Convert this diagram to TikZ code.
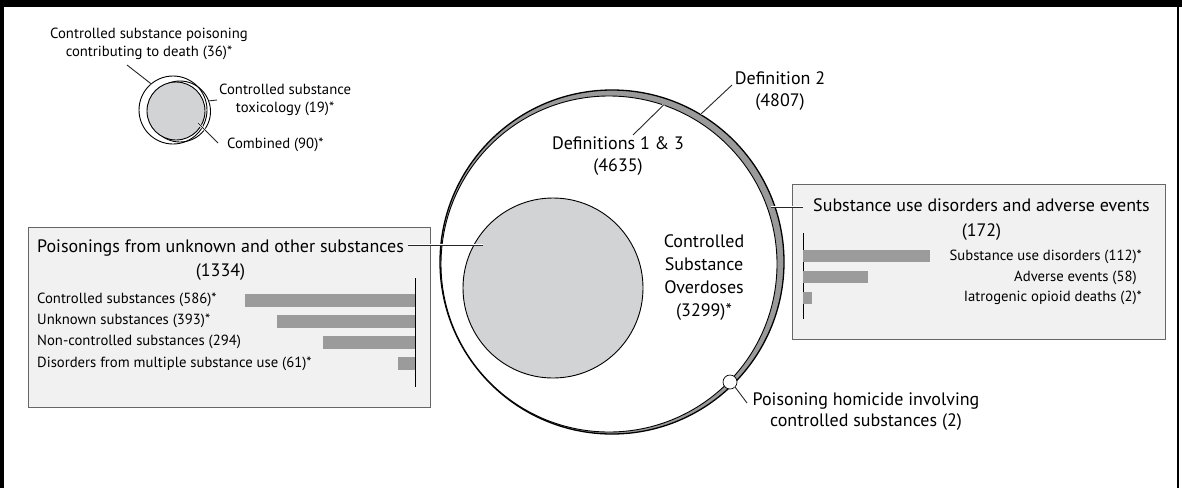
\documentclass[tikz,border=0pt]{standalone}
\usepackage{fontspec}
\setmainfont{PT Sans}
\usetikzlibrary{positioning,calc}

\definecolor{ringgray}{HTML}{9A9A9A}
\definecolor{discgray}{HTML}{D2D3D5}
\definecolor{bargray}{HTML}{9B9B9B}
\definecolor{panelgray}{HTML}{F1F1F1}

\tikzset{
  small/.style={font=\fontsize{14.7}{18}\selectfont, inner sep=0pt},
  large/.style={font=\fontsize{18}{22}\selectfont, inner sep=0pt, align=center},
  leader/.style={preaction={draw=white,line width=2.4pt}, draw=black!85, line width=0.9pt},
  panel/.style={fill=panelgray, draw=black!60, line width=1.1pt, inner sep=0pt},
  disc/.style={circle, inner sep=0pt, draw=black, line width=0.9pt},
}

\begin{document}
\begin{tikzpicture}[x=1pt,y=-1pt]
\useasboundingbox (0,0) rectangle (1182,488);
% frame
\fill[black] (0,0) rectangle (1182,7);
\fill[black] (0,0) rectangle (4,488);
\fill[black] (1177,0) rectangle (1179,488);

% small venn, top left
\node[disc, minimum size=68pt] (venna) at (173,110) {};
\node[disc, minimum size=61pt] (vennb) at (180,111.5) {};
\node[disc, fill=discgray, minimum size=58pt] (vennc) at (176,111) {};
\node[small, align=center] (vtxt1) at (149,44) {Controlled substance poisoning\\contributing to death (36)*};
\node[small, align=center, anchor=west] (vtxt2) at (219,100) {Controlled substance\\toxicology (19)*};
\node[small, anchor=west] (vtxt3) at (227,145) {Combined (90)*};
\coordinate (v1a) at (127,65);
\coordinate (v2a) at (217,100);
\coordinate (v3a) at (198,123);
\coordinate (v3b) at (218,143);
\draw[leader] (v1a) -- (venna.130);
\draw[leader] (vennb.20) -- (v2a);
\draw[leader] (v3a) -- (v3b);

% big circles
\node[disc, fill=ringgray, line width=1.3pt, minimum size=344pt] (def2) at (612,262) {};
\node[disc, fill=white, minimum size=336pt] (def13) at (609,264) {};
\node[disc, fill=discgray, minimum size=180pt] (unk) at (553,288) {};
\node[disc, fill=white, line width=0.7pt, minimum size=14pt] (homic) at (730,382) {};

\node[large] (def2lbl) at (780,91) {Definition 2\\(4807)};
\node[large] (def13lbl) at (618,156) {Definitions 1 \& 3\\(4635)};
\node[large, font=\fontsize{18}{23}\selectfont] (csolbl) at (704,278) {Controlled\\Substance\\Overdoses\\(3299)*};
\node[large, font=\fontsize{18}{21}\selectfont] (homlbl) at (866,412) {Poisoning homicide involving\\controlled substances (2)};
\coordinate (d2a) at (732,85);
\coordinate (d13a) at (633,135);
\coordinate (homa) at (747,403);
\draw[leader] (def2.59) -- (d2a);
\draw[leader] (def13.71) -- (d13a);
\draw[leader] (homic.-45) -- (homa);

% right panel
\node[panel, minimum width=373pt, minimum height=155pt, anchor=north west] (sudbox) at (792,184) {};
\node[large, font=\fontsize{18}{25}\selectfont] (sudlbl) at (981.5,219.5) {Substance use disorders and adverse events\\(172)};
\coordinate (ringpt) at (771,207);
\coordinate (suda) at (803,207);
\draw[leader] (ringpt) -- (suda);
\draw[black, line width=1pt] (803,233) -- (803,319);
\foreach \w/\y in {127/256, 65/277, 9/298}
  \fill[bargray] (803,\y-6) rectangle ++(\w,12);
\foreach \t/\y [count=\i] in {Substance use disorders (112)*/257, Adverse events (58)\phantom{*}/278, Iatrogenic opioid deaths (2)*/298}
  \node[small, anchor=east] (sudi\i) at (1142,\y) {\t};

% left panel
\node[panel, minimum width=402pt, minimum height=180pt, anchor=north west] (unkbox) at (28,227) {};
\node[large, font=\fontsize{18}{24}\selectfont] (unklbl) at (220.5,260) {Poisonings from unknown and other substances\\(1334)};
\coordinate (unka) at (408,245);
\coordinate (unkb) at (483,245);
\draw[leader] (unka) -- (unkb);
\draw[black, line width=1pt] (415,278) -- (415,387);
\foreach \w/\y in {170/300, 138/321, 92/342, 17/363}
  \fill[bargray] (415-\w,\y-6.5) rectangle (415,\y+6.5);
\foreach \t/\y [count=\i] in {Controlled substances (586)*/300, Unknown substances (393)*/321, Non-controlled substances (294)/342, Disorders from multiple substance use (61)*/364}
  \node[small, anchor=west] (unki\i) at (37,\y) {\t};
\end{tikzpicture}
\end{document}
